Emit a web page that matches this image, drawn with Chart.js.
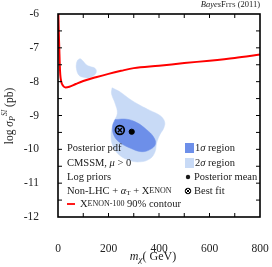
<!DOCTYPE html>
<html>
<head>
<meta charset="utf-8">
<title>BayesFits sigma SI</title>
<script src="https://cdn.jsdelivr.net/npm/chart.js@4.4.0/dist/chart.umd.min.js"></script>
<style>
  html, body { margin: 0; padding: 0; background: #fff; }
  #wrap { position: relative; width: 272px; height: 267px; }
</style>
</head>
<body>
<div id="wrap"><canvas id="myChart" width="272" height="267"></canvas></div>
<script>
// ---- data ----
const xTicks = [0, 200, 400, 600, 800];
const yTicks = [-6, -7, -8, -9, -10, -11, -12];

// Xenon-100 90% limit
const xenonX = [1.5, 3, 5, 7, 9, 13, 20, 30, 45, 70, 100, 150, 200, 250, 300, 400, 500, 600, 700, 800];
const xenonY = [-6, -6.5, -7.0, -7.5, -7.8, -8.0, -8.12, -8.17, -8.15, -8.07, -7.98, -7.87, -7.77, -7.68, -7.6, -7.53, -7.45, -7.38, -7.3, -7.2];

// 2 sigma region (main)
const sig2X = [214, 245, 285, 325, 364, 404, 422, 419, 404, 391, 384, 364, 325, 285, 245, 219, 210, 219, 235, 226, 212, 214];
const sig2Y = [-8.18, -8.3, -8.52, -8.7, -8.85, -9.0, -9.18, -9.37, -9.56, -9.8, -10.08, -10.28, -10.37, -10.33, -10.18, -9.93, -9.6, -9.22, -8.94, -8.64, -8.36, -8.18];

// 2 sigma island near the Xenon curve
const islandX = [78, 88, 100, 112, 130, 146, 152, 142, 120, 100, 82, 73, 73, 78];
const islandY = [-7.36, -7.32, -7.4, -7.5, -7.56, -7.6, -7.7, -7.82, -7.89, -7.87, -7.8, -7.62, -7.46, -7.36];

// 1 sigma region
const sig1X = [226, 272, 312, 351, 378, 386, 366, 331, 285, 245, 222, 216, 226];
const sig1Y = [-9.12, -9.11, -9.21, -9.42, -9.63, -9.84, -10.0, -10.07, -9.96, -9.8, -9.6, -9.33, -9.12];

const meanX = [292], meanY = [-9.48];
const bestX = [245], bestY = [-9.43];

const SERIF = '"Liberation Serif", "DejaVu Serif", serif';
const c1 = '#6d8fe9';
const c2 = '#c8daf6';

function pts(xs, ys) { return xs.map((x, i) => ({ x: x, y: ys[i] })); }

// draw runs of text: [text, size, style, dy]
function runs(ctx, x, y, list, align) {
  let total = 0;
  list.forEach(r => {
    ctx.font = (r[2] || '') + ' ' + r[1] + 'px ' + SERIF;
    total += ctx.measureText(r[0]).width;
  });
  let cx = align === 'center' ? x - total / 2 : align === 'right' ? x - total : x;
  list.forEach(r => {
    ctx.font = (r[2] || '') + ' ' + r[1] + 'px ' + SERIF;
    ctx.fillText(r[0], cx, y + (r[3] || 0));
    cx += ctx.measureText(r[0]).width;
  });
}

function noPad(s) {
  s.paddingLeft = 0; s.paddingRight = 0; s.paddingTop = 0; s.paddingBottom = 0;
}

const framePlugin = {
  id: 'frame',
  afterDatasetsDraw(chart) {
    const ctx = chart.ctx, a = chart.chartArea;
    const xs = chart.scales.x, ys = chart.scales.y;
    ctx.save();
    ctx.strokeStyle = '#000';
    ctx.lineWidth = 1;
    ctx.beginPath();
    for (let v = 100; v < 800; v += 100) {
      const px = xs.getPixelForValue(v);
      ctx.moveTo(px, a.bottom); ctx.lineTo(px, a.bottom - 4);
      ctx.moveTo(px, a.top); ctx.lineTo(px, a.top + 4);
    }
    for (let v = -11.5; v < -6; v += 0.5) {
      const py = ys.getPixelForValue(v);
      ctx.moveTo(a.left, py); ctx.lineTo(a.left + 4, py);
      ctx.moveTo(a.right, py); ctx.lineTo(a.right - 4, py);
    }
    ctx.stroke();
    ctx.lineWidth = 1.6;
    ctx.strokeRect(a.left, a.top, a.right - a.left, a.bottom - a.top);

    // legend text
    ctx.fillStyle = '#1a1a1a';
    ctx.textBaseline = 'middle';
    const L = 67;
    runs(ctx, L, 148, [['Posterior pdf', 10.5]]);
    runs(ctx, L, 163, [['CMSSM, ', 10.5], ['\u03bc', 10.5, 'italic'], [' > 0', 10.5]]);
    runs(ctx, L, 177, [['Log priors', 10.5]]);
    runs(ctx, L, 191, [['Non-LHC + ', 10.5], ['\u03b1', 10.5, 'italic'], ['T', 7, '', 2], [' + ', 10.5], ['X', 10.5], ['ENON', 8]]);
    ctx.strokeStyle = '#ff0000'; ctx.lineWidth = 1.8;
    ctx.beginPath(); ctx.moveTo(67, 204); ctx.lineTo(75, 204); ctx.stroke();
    runs(ctx, 80, 204, [['X', 10.5], ['ENON-100', 8], [' 90% contour', 10.5]]);

    ctx.fillStyle = c1; ctx.fillRect(185, 143, 9, 10);
    ctx.fillStyle = c2; ctx.fillRect(185, 158, 9, 10);
    ctx.fillStyle = '#1a1a1a';
    runs(ctx, 195, 148, [['1', 10.5], ['\u03c3', 10.5, 'italic'], [' region', 10.5]]);
    runs(ctx, 195, 163, [['2', 10.5], ['\u03c3', 10.5, 'italic'], [' region', 10.5]]);
    ctx.beginPath(); ctx.arc(188, 177, 2.2, 0, Math.PI * 2); ctx.fill();
    runs(ctx, 194, 177, [['Posterior mean', 10.5]]);
    ctx.strokeStyle = '#000'; ctx.lineWidth = 1;
    ctx.beginPath(); ctx.arc(188, 191, 2.8, 0, Math.PI * 2);
    ctx.moveTo(186, 189); ctx.lineTo(190, 193); ctx.moveTo(190, 189); ctx.lineTo(186, 193);
    ctx.stroke();
    runs(ctx, 194, 191, [['Best fit', 10.5]]);

    // top label
    runs(ctx, 260, 5, [['Bayes', 8.5, 'italic'], ['F', 8.5], ['ITS', 6.5], [' (2011)', 8.5]], 'right');

    // axis titles
    runs(ctx, 153, 257, [['m', 12, 'italic'], ['\u03c7', 9, 'italic', 3], ['( GeV)', 12]], 'center');
    ctx.translate(10, 116);
    ctx.rotate(-Math.PI / 2);
    runs(ctx, 0, 0, [['log ', 11.5], ['\u03c3', 11.5, 'italic'], ['P', 8, 'italic', 3], ['SI', 7.5, 'italic', -5], [' (pb)', 11.5]], 'center');
    ctx.restore();
  }
};

const ctx = document.getElementById('myChart');
const myChart = new Chart(ctx, {
  type: 'scatter',
  data: {
    datasets: [
      { data: pts(sig2X, sig2Y), showLine: true, fill: 'shape', backgroundColor: c2, borderColor: c2, borderWidth: 0.5, pointRadius: 0, tension: 0.4, order: 6 },
      { data: pts(islandX, islandY), showLine: true, fill: 'shape', backgroundColor: c2, borderColor: c2, borderWidth: 0.5, pointRadius: 0, tension: 0.4, order: 6 },
      { data: pts(sig1X, sig1Y), showLine: true, fill: 'shape', backgroundColor: c1, borderColor: c1, borderWidth: 0.5, pointRadius: 0, tension: 0.4, order: 5 },
      { data: pts(xenonX, xenonY), showLine: true, fill: false, borderColor: '#ff0000', borderWidth: 2, pointRadius: 0, cubicInterpolationMode: 'monotone', order: 4 },
      { data: pts(meanX, meanY), pointRadius: 2.6, backgroundColor: '#000', borderColor: '#000', order: 2 },
      { data: pts(bestX, bestY), pointStyle: 'circle', pointRadius: 4.4, backgroundColor: 'rgba(0,0,0,0)', borderColor: '#000', borderWidth: 1.7, order: 1 },
      { data: pts(bestX, bestY), pointStyle: 'crossRot', pointRadius: 3, borderColor: '#000', borderWidth: 1.4, order: 1 }
    ]
  },
  options: {
    responsive: false,
    devicePixelRatio: 1,
    animation: false,
    events: [],
    layout: { padding: { top: 14, right: 12, left: 0, bottom: 0 } },
    plugins: { legend: { display: false }, tooltip: { enabled: false } },
    scales: {
      x: {
        type: 'linear', min: 0, max: 800,
        afterFit: s => { s.height = 50; noPad(s); },
        afterBuildTicks: s => { s.ticks = xTicks.map(v => ({ value: v })); },
        grid: { display: false }, border: { display: false },
        ticks: { padding: 17, color: '#222', font: { family: SERIF, size: 11.5 } }
      },
      y: {
        type: 'linear', min: -12, max: -6,
        afterFit: s => { s.width = 58; noPad(s); },
        afterBuildTicks: s => { s.ticks = yTicks.map(v => ({ value: v })); },
        grid: { display: false }, border: { display: false },
        ticks: { padding: 11, color: '#222', font: { family: SERIF, size: 11.5 } }
      }
    }
  },
  plugins: [framePlugin]
});
</script>
</body>
</html>
